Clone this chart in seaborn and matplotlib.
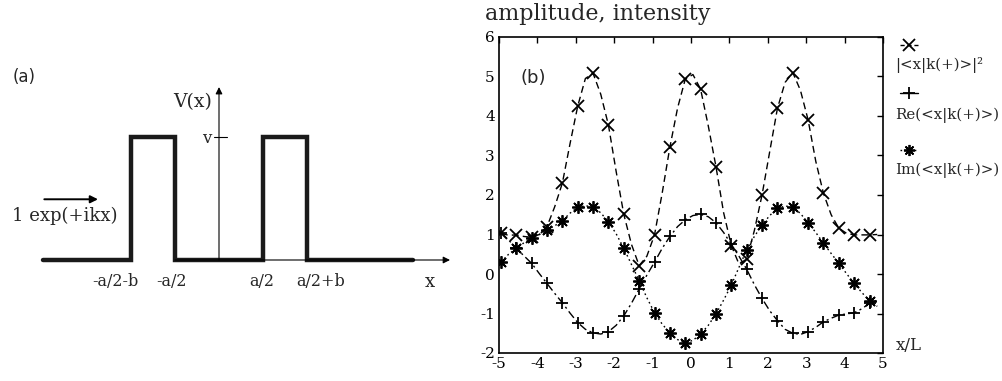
import matplotlib
matplotlib.use("Agg")
import matplotlib.pyplot as plt
import seaborn as sns
from matplotlib.lines import Line2D

# ---- data: panel (b), curves read every 0.2 (markers on every other point) ----
x_pos = [-4.95, -4.75, -4.55, -4.35, -4.15, -3.95, -3.75, -3.55, -3.35, -3.15,
         -2.95, -2.75, -2.55, -2.35, -2.15, -1.95, -1.75, -1.55, -1.35, -1.15,
         -0.95, -0.75, -0.55, -0.35, -0.15, 0.05, 0.25, 0.45, 0.65, 0.85,
         1.05, 1.25, 1.45, 1.65, 1.85, 2.05, 2.25, 2.45, 2.65, 2.85,
         3.05, 3.25, 3.45, 3.65, 3.85, 4.05, 4.25, 4.45, 4.65, 4.85]
intensity = [1.03, 0.98, 0.99, 0.95, 0.93, 1.00, 1.20, 1.70, 2.30, 3.30,
             4.25, 4.95, 5.08, 4.55, 3.77, 2.60, 1.51, 0.75, 0.21, 0.45,
             0.99, 2.05, 3.21, 4.20, 4.93, 5.05, 4.68, 3.75, 2.72, 1.55,
             0.72, 0.25, 0.38, 1.10, 2.00, 3.10, 4.19, 4.85, 5.10, 4.65,
             3.90, 2.85, 2.04, 1.50, 1.16, 1.03, 0.99, 0.99, 0.99, 1.00]
re_part = [1.05, 0.86, 0.65, 0.46, 0.27, 0.01, -0.24, -0.49, -0.73, -0.99,
           -1.23, -1.40, -1.49, -1.52, -1.46, -1.30, -1.06, -0.74, -0.38, -0.03,
           0.30, 0.65, 0.95, 1.20, 1.37, 1.48, 1.51, 1.45, 1.30, 1.05,
           0.75, 0.45, 0.12, -0.27, -0.62, -0.93, -1.18, -1.40, -1.50, -1.53,
           -1.46, -1.35, -1.21, -1.12, -1.04, -1.01, -0.98, -0.88, -0.74, -0.66]
im_part = [0.30, 0.50, 0.65, 0.79, 0.90, 1.00, 1.11, 1.22, 1.35, 1.54,
           1.69, 1.73, 1.69, 1.55, 1.32, 1.02, 0.65, 0.24, -0.17, -0.60,
           -0.98, -1.27, -1.49, -1.66, -1.74, -1.68, -1.52, -1.30, -1.01, -0.66,
           -0.28, 0.17, 0.61, 0.95, 1.24, 1.48, 1.66, 1.72, 1.70, 1.53,
           1.30, 1.05, 0.78, 0.52, 0.27, 0.01, -0.24, -0.47, -0.68, -0.82]
labels = ["|<x|k(+)>|²", "Re(<x|k(+)>)", "Im(<x|k(+)>)"]
x_ticks = [-5, -4, -3, -2, -1, 0, 1, 2, 3, 4, 5]
y_ticks = [-2, -1, 0, 1, 2, 3, 4, 5, 6]

# ---- data: panel (a) schematic ----
barrier_edges = [-2, -1, 1, 2]      # -a/2-b, -a/2, a/2, a/2+b
edge_labels = ["-a/2-b", "-a/2", "a/2", "a/2+b"]
label_pos = [-2.36, -1.07, 0.97, 2.3]
v_height = 2.8
x_start, x_end = -4.0, 4.4

sns.set_theme(style="white")
plt.rcParams["font.family"] = ["DejaVu Serif"]
plt.rcParams["axes.unicode_minus"] = False

fig = plt.figure(figsize=(10.03, 3.81), dpi=100)

# ================= panel (a) =================
axa = fig.add_axes([0, 0, 460 / 1003, 1])
axa.set_xlim(-4.977, 5.477)
axa.set_ylim(-2.75, 5.909)
axa.axis("off")

pot_x = [x_start]
pot_y = [0]
for i, e in enumerate(barrier_edges):
    lo, hi = (0, v_height) if i % 2 == 0 else (v_height, 0)
    pot_x += [e, e]
    pot_y += [lo, hi]
pot_x.append(x_end)
pot_y.append(0)
sns.lineplot(x=pot_x, y=pot_y, ax=axa, color="#1a1a1a", lw=3.2, sort=False,
             estimator=None, solid_joinstyle="miter")

# axes arrows
axa.annotate("", xy=(5.25, 0), xytext=(-1, 0),
             arrowprops=dict(arrowstyle="-|>", color="black", lw=0.8,
                             mutation_scale=10, shrinkA=0, shrinkB=0))
axa.annotate("", xy=(0, 3.93), xytext=(0, 0),
             arrowprops=dict(arrowstyle="-|>", color="black", lw=0.8,
                             mutation_scale=10, shrinkA=0, shrinkB=0))
axa.plot([-0.12, 0.18], [v_height, v_height], color="black", lw=0.8)
axa.text(-0.18, v_height - 0.05, "v", ha="right", va="center", fontsize=12)
axa.text(-0.16, 3.59, "V(x)", ha="right", va="center", fontsize=13.5)
for p, lab in zip(label_pos, edge_labels):
    axa.text(p, -0.5, lab, ha="center", va="center", fontsize=11.5)
axa.text(4.8, -0.5, "x", ha="center", va="center", fontsize=13)
axa.text(-4.7, 1.0, "1 exp(+ikx)", ha="left", va="center", fontsize=13)
axa.annotate("", xy=(-2.75, 1.38), xytext=(-3.97, 1.38),
             arrowprops=dict(arrowstyle="-|>", color="black", lw=1.4,
                             mutation_scale=11, shrinkA=0, shrinkB=0))
axa.text(-4.7, 4.16, "(a)", ha="left", va="center", fontsize=12,
         family="DejaVu Sans")

# ================= panel (b) =================
axb = fig.add_axes([499 / 1003, 28 / 381, 384 / 1003, 316 / 381])
common = dict(ax=axb, color="black", lw=1.0, sort=False, estimator=None,
              markevery=2, markersize=8, markeredgewidth=1.3,
              markeredgecolor="black", markerfacecolor="none")
sns.lineplot(x=x_pos, y=intensity, marker="x", **common)
axb.lines[-1].set_linestyle((0, (5, 3)))
sns.lineplot(x=x_pos, y=re_part, marker="+", **common)
axb.lines[-1].set_linestyle((0, (6, 2.5, 1.5, 2.5)))
sns.lineplot(x=x_pos, y=im_part, marker=(8, 2, 0), **common)
axb.lines[-1].set_linestyle((0, (1.2, 2.2)))
axb.lines[-1].set_markersize(9)

axb.set_xlim(-5, 5)
axb.set_ylim(-2, 6)
axb.set_xticks(x_ticks)
axb.set_yticks(y_ticks)
axb.tick_params(direction="in", top=True, right=True, length=4, width=1,
                labelsize=11, pad=3, colors="black")
for s in axb.spines.values():
    s.set_visible(True)
    s.set_color("black")
    s.set_linewidth(1.2)
axb.grid(False)
axb.text(-4.45, 4.95, "(b)", ha="left", va="center", fontsize=13,
         family="DejaVu Sans")

fig.text(485 / 1003, 1 - 14 / 381, "amplitude, intensity", ha="left",
         va="center", fontsize=16)
fig.text(909 / 1003, 1 - 346 / 381, "x/L", ha="center", va="center",
         fontsize=12)

# legend: handle above label
leg_styles = [("x", (0, (3, 2)), 45, 65), ("+", "-", 93, 115),
              ((8, 2, 0), (0, (1.2, 2.2)), 150, 170)]
for (mk, ls, hy, ly), lab in zip(leg_styles, labels):
    y = 1 - hy / 381
    fig.add_artist(Line2D([900 / 1003, 909 / 1003, 918 / 1003], [y, y, y],
                          transform=fig.transFigure, color="black", lw=1.0,
                          linestyle=ls, marker=mk, markevery=[1],
                          markersize=8, markeredgewidth=1.3))
    fig.text(895 / 1003, 1 - ly / 381, lab, ha="left", va="center",
             fontsize=10.8)

fig.savefig("out.png", dpi=100)
